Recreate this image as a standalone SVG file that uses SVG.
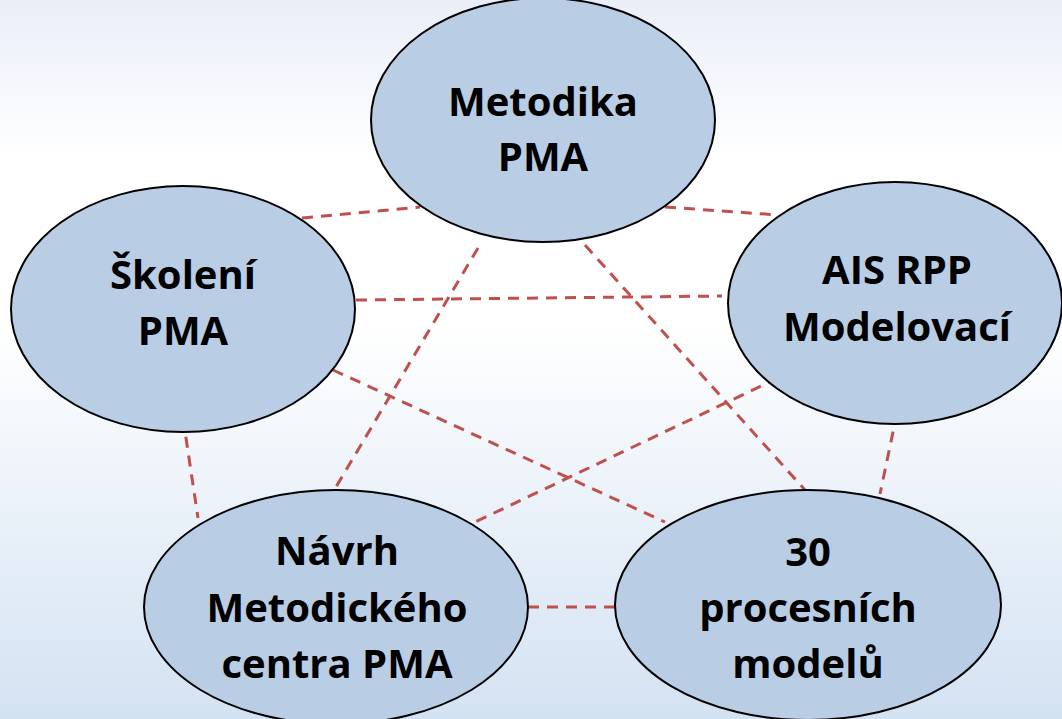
<svg xmlns="http://www.w3.org/2000/svg" width="1062" height="719" viewBox="0 0 1062 719">
<defs>
<linearGradient id="bg" x1="0" y1="0" x2="0" y2="1">
<stop offset="0" stop-color="#e9eef8"/>
<stop offset="0.22" stop-color="#ffffff"/>
<stop offset="0.45" stop-color="#ffffff"/>
<stop offset="1" stop-color="#d3e2f2"/>
</linearGradient>
</defs>
<style>
.node ellipse{fill:#b9cde4;stroke:#000;stroke-width:2}
.node text{font-family:"Open Sans",Lato,"Liberation Sans",sans-serif;font-weight:bold;font-size:40px;fill:#000;text-anchor:middle}
#connectors line{stroke:#c0504d;stroke-width:3;stroke-dasharray:11 8;fill:none}
</style>
<rect width="1062" height="719" fill="url(#bg)"/>
<g id="connectors">
<line x1="302" y1="218" x2="420" y2="207"/>
<line x1="665" y1="207" x2="778" y2="215"/>
<line x1="356" y1="300" x2="722" y2="296"/>
<line x1="478" y1="248" x2="333" y2="492"/>
<line x1="585" y1="245" x2="805" y2="490"/>
<line x1="183" y1="418" x2="198" y2="518"/>
<line x1="333" y1="370" x2="665" y2="522"/>
<line x1="778" y1="378" x2="473" y2="523"/>
<line x1="897" y1="413" x2="880" y2="494"/>
<line x1="528" y1="607" x2="615" y2="607"/>
</g>
<g id="n-metodika" class="node">
<ellipse cx="543" cy="120" rx="172" ry="122"/>
<text x="543" y="116">Metodika</text>
<text x="543" y="171">PMA</text>
</g>
<g id="n-skoleni" class="node">
<ellipse cx="183" cy="309" rx="172" ry="123"/>
<text x="183" y="289">Školení</text>
<text x="183" y="345">PMA</text>
</g>
<g id="n-ais" class="node">
<ellipse cx="895" cy="303" rx="167" ry="121"/>
<text x="897" y="284">AIS RPP</text>
<text x="897" y="341">Modelovací</text>
</g>
<g id="n-navrh" class="node">
<ellipse cx="336" cy="607" rx="192" ry="117"/>
<text x="337" y="565">Návrh</text>
<text x="337" y="622">Metodického</text>
<text x="337" y="678">centra PMA</text>
</g>
<g id="n-30" class="node">
<ellipse cx="808" cy="605" rx="193" ry="115"/>
<text x="808" y="566">30</text>
<text x="808" y="622">procesních</text>
<text x="808" y="678">modelů</text>
</g>
</svg>
